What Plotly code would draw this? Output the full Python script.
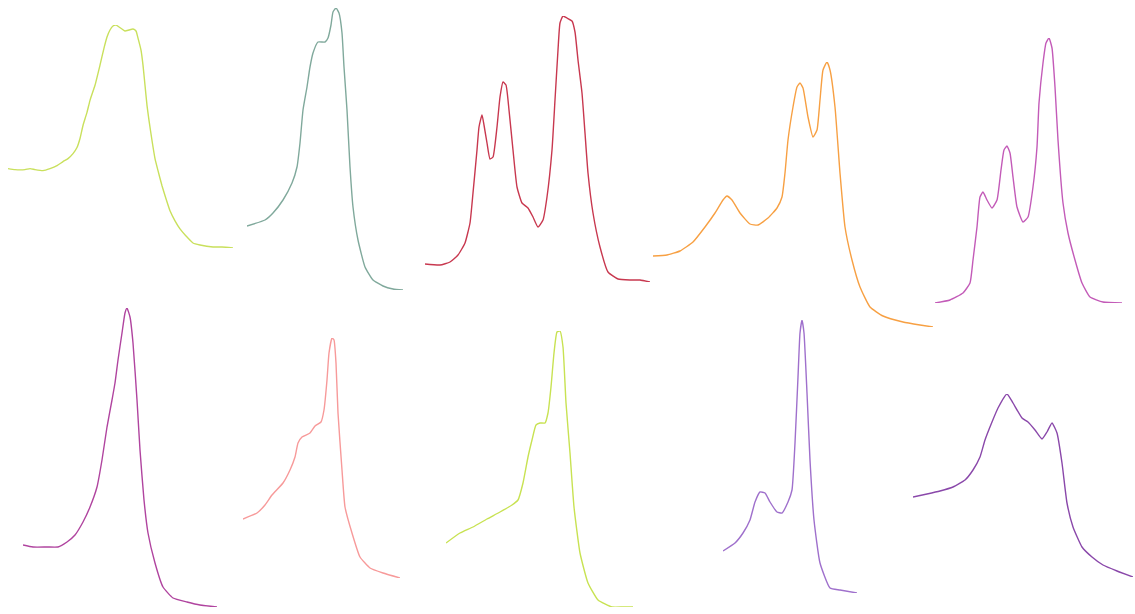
import plotly.graph_objects as go

W, H = 1135, 614

# Spectra: x = sample offset along the band, y = intensity above each trace's floor
names = ["S1", "S2", "S3", "S4", "S5", "S6", "S7", "S8", "S9", "S10"]

x1 = [0, 7, 17, 22, 27, 35, 42, 49, 55, 60, 65, 69, 72, 75, 79, 82, 87, 92, 96, 99, 102, 105, 108, 111, 114, 117,
      121, 125, 128, 130, 133, 135, 137, 139, 141, 144, 147, 150, 154, 158, 162, 167, 172, 178, 185, 192, 205, 214, 225]
y1 = [80, 79, 79, 80, 79, 78, 80, 83, 87, 90, 95, 101, 110, 123, 136, 148, 163, 183, 200, 211, 218, 222, 223, 221, 219, 217,
      218, 219, 217, 210, 198, 183, 163, 143, 128, 108, 90, 78, 63, 50, 38, 28, 20, 13, 6, 4, 2, 2, 1]

x2 = [0, 18, 26, 36, 45, 50, 53, 56, 60, 63, 66, 71, 78, 81, 84, 86, 89, 92, 95, 97, 100, 103, 106, 111, 118, 126, 136, 146, 156]
y2 = [64, 70, 77, 90, 107, 123, 147, 180, 203, 223, 237, 248, 248, 252, 265, 278, 282, 277, 257, 223, 180, 123, 83, 50, 23, 10, 4, 1, 0]

x3 = [0, 15, 25, 33, 40, 45, 48, 52, 54, 57, 59, 62, 65, 68, 72, 75, 78, 81, 84, 88, 92, 97, 103, 108, 113, 118, 122,
      127, 130, 133, 135, 138, 142, 147, 150, 153, 157, 160, 163, 168, 175, 183, 193, 205, 215, 225]
y3 = [18, 17, 20, 27, 39, 59, 89, 132, 155, 167, 157, 139, 123, 125, 155, 185, 200, 197, 172, 132, 95, 79, 74, 65, 55, 62, 85,
      132, 182, 232, 259, 266, 264, 261, 250, 222, 189, 149, 109, 69, 35, 10, 3, 2, 2, 0]

x4 = [0, 14, 27, 40, 52, 62, 70, 74, 79, 87, 97, 105, 115, 124, 129, 132, 135, 140, 144, 147, 150, 155, 160, 164, 167,
      170, 174, 177, 182, 187, 192, 199, 207, 217, 230, 250, 267, 280]
y4 = [71, 72, 76, 85, 100, 114, 127, 131, 127, 114, 103, 102, 109, 119, 130, 154, 187, 220, 240, 244, 239, 210, 190, 197, 227,
      257, 265, 257, 220, 154, 100, 67, 40, 20, 11, 5, 2, 0]

x5 = [0, 15, 28, 35, 38, 42, 45, 48, 52, 57, 62, 66, 69, 72, 75, 78, 82, 88, 93, 98, 102, 104, 108, 111, 114, 117, 120,
      123, 128, 133, 140, 147, 155, 168, 187]
y5 = [0, 3, 10, 20, 43, 76, 106, 111, 103, 95, 103, 133, 153, 157, 150, 126, 96, 81, 86, 116, 156, 200, 240, 260, 265, 255, 216,
      163, 100, 70, 43, 20, 6, 1, 0]

x6 = [0, 10, 24, 35, 44, 52, 60, 67, 74, 79, 84, 89, 92, 95, 99, 102, 104, 107, 110, 114, 117, 121, 125, 132, 140, 150, 164, 177, 194]
y6 = [62, 60, 60, 60, 65, 72, 85, 100, 120, 147, 180, 207, 224, 247, 274, 294, 299, 290, 264, 207, 157, 107, 74, 44, 20, 9, 5, 2, 0]

x7 = [0, 14, 22, 29, 40, 47, 52, 55, 59, 67, 72, 78, 81, 84, 86, 89, 91, 93, 95, 99, 102, 109, 117, 127, 140, 157]
y7 = [59, 65, 73, 83, 95, 108, 121, 135, 141, 145, 152, 156, 168, 198, 225, 240, 238, 215, 165, 108, 71, 45, 21, 10, 5, 0]

x8 = [0, 14, 27, 41, 54, 66, 72, 77, 82, 86, 90, 94, 99, 102, 105, 108, 111, 114, 117, 120, 124, 128, 134, 142, 152, 166, 177, 187]
y8 = [64, 74, 80, 88, 95, 102, 107, 124, 150, 167, 182, 184, 184, 194, 220, 254, 275, 276, 260, 204, 154, 100, 54, 24, 7, 0, 0, 0]

x9 = [0, 12, 20, 27, 32, 37, 42, 47, 54, 59, 65, 69, 72, 75, 77, 79, 81, 84, 87, 91, 97, 107, 117, 134]
y9 = [42, 50, 60, 73, 91, 101, 100, 91, 81, 80, 91, 103, 150, 216, 260, 273, 260, 200, 133, 73, 30, 5, 3, 0]

x10 = [0, 14, 27, 40, 52, 60, 67, 72, 79, 85, 94, 100, 109, 115, 122, 129, 134, 139, 144, 149, 154, 160, 169, 179, 190, 204, 220]
y10 = [80, 83, 86, 90, 97, 107, 120, 137, 155, 169, 183, 174, 159, 155, 147, 138, 145, 154, 144, 114, 74, 50, 30, 20, 12, 6, 0]

xs = [x1, x2, x3, x4, x5, x6, x7, x8, x9, x10]
ys = [y1, y2, y3, y4, y5, y6, y7, y8, y9, y10]

colors = ["#c9e05c", "#80a99c", "#c8384f", "#f7a043", "#c35bb8",
          "#b0449f", "#f79a9a", "#c8e252", "#9f70cc", "#8a48aa"]

# Placement of each panel on the page: left, bottom, right, top (pixels)
boxes = [
    (8, 248, 233, 25), (247, 290, 403, 8), (425, 282, 650, 16), (653, 327, 933, 62), (935, 303, 1122, 38),
    (23, 607, 217, 308), (243, 578, 400, 338), (446, 607, 633, 331), (723, 593, 857, 320), (913, 577, 1133, 394),
]

fig = go.Figure()
layout = dict(
    width=W, height=H, margin=dict(l=0, r=0, t=0, b=0),
    paper_bgcolor="white", plot_bgcolor="rgba(0,0,0,0)", showlegend=False,
)

for i, (xv, yv) in enumerate(zip(xs, ys)):
    k = "" if i == 0 else str(i + 1)
    left, bottom, right, top = boxes[i]
    fig.add_trace(go.Scatter(
        x=xv, y=yv, name=names[i], mode="lines",
        line=dict(color=colors[i], width=1.4, shape="spline", smoothing=0.45),
        xaxis="x" + k, yaxis="y" + k, hoverinfo="skip",
    ))
    layout["xaxis" + k] = dict(
        domain=[left / W, right / W], range=[min(xv), max(xv)], anchor="y" + k,
        visible=False, showgrid=False, zeroline=False, fixedrange=True,
    )
    layout["yaxis" + k] = dict(
        domain=[(H - bottom) / H, (H - top) / H], range=[min(yv), max(yv)], anchor="x" + k,
        visible=False, showgrid=False, zeroline=False, fixedrange=True,
    )

fig.update_layout(**layout)
fig.write_html("out.html", config={"displayModeBar": False})
